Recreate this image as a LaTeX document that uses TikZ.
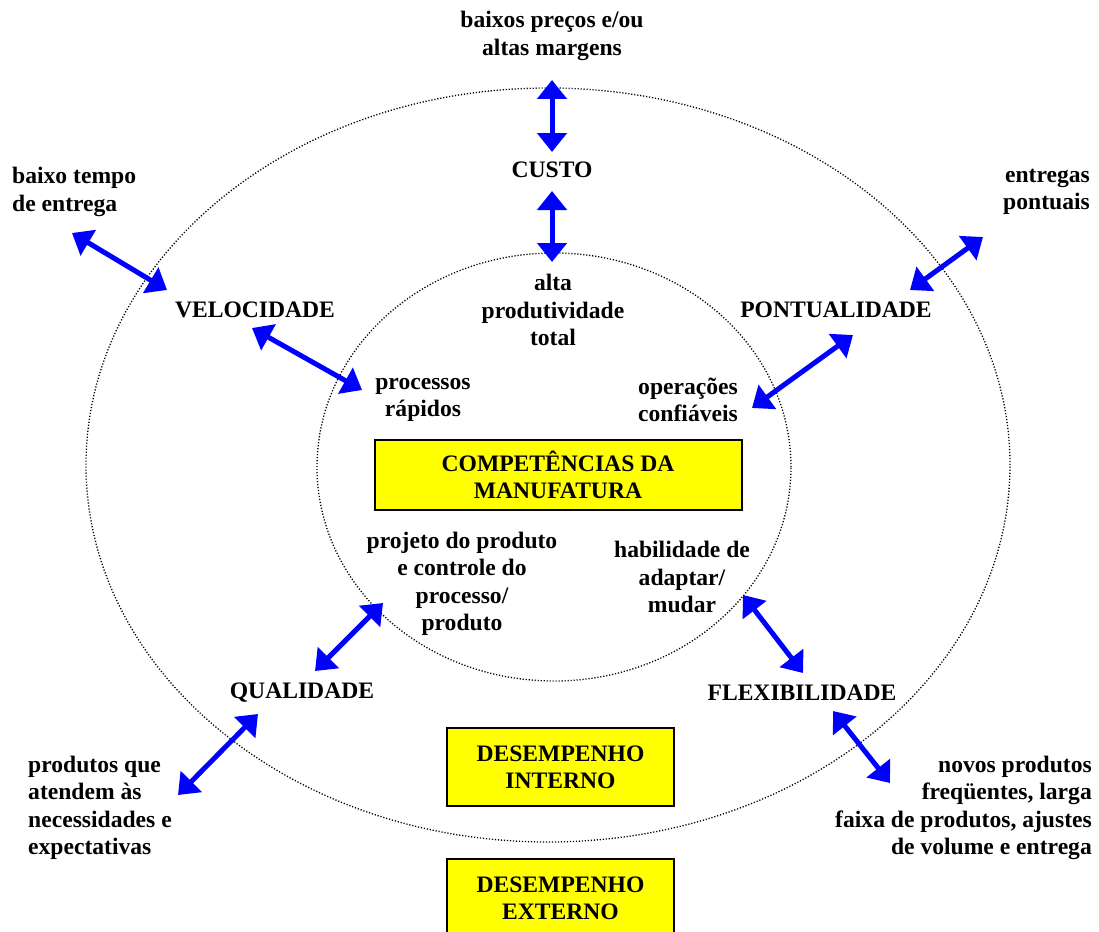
\documentclass[tikz,border=0pt]{standalone}
\usepackage{fontspec}
\setmainfont{Liberation Serif}
\usetikzlibrary{arrows.meta}
\definecolor{boxyellow}{RGB}{255,255,0}
\definecolor{arrowblue}{RGB}{0,0,255}
\begin{document}
\begin{tikzpicture}[x=1pt,y=-1pt,
  lbl/.style={font=\bfseries\fontsize{23.6}{27.4}\selectfont, inner sep=0pt, align=center},
  ybox/.style={lbl, draw=black, line width=2pt, fill=boxyellow},
  dbl/.style={draw=arrowblue, fill=arrowblue, line width=5pt, {Triangle[length=19pt,width=29pt]}-{Triangle[length=19pt,width=29pt]}},
  orbit/.style={line width=1.3pt, dash pattern=on 1.2pt off 1.8pt}
]
\clip (0,0) rectangle (1099,931);
\fill[white] (0,0) rectangle (1099,931);

% orbits
\draw[orbit] (548,465) ellipse [x radius=462pt, y radius=377pt];
\draw[orbit] (554,467) ellipse [x radius=237pt, y radius=214pt];

% labels
\node[lbl] (precos) at (552,36) {baixos preços e/ou\\altas margens};
\node[lbl] (custo) at (552,170) {CUSTO};
\node[lbl] (prod) at (553,310) {alta\\produtividade\\total};
\node[lbl] (vel) at (255,310) {VELOCIDADE};
\node[lbl] (pont) at (836,310) {PONTUALIDADE};
\node[lbl, anchor=west, align=left] (tempo) at (12,192) {baixo tempo\\de entrega};
\node[lbl, anchor=east, align=right] (entregas) at (1090,192) {entregas\\pontuais};
\node[lbl] (proc) at (423,400) {processos\\rápidos};
\node[lbl] (oper) at (688,400) {operações\\confiáveis};
\node[ybox, minimum width=367pt, minimum height=70pt] (comp) at (558,475) {COMPETÊNCIAS DA\\MANUFATURA};
\node[lbl] (proj) at (462,584) {projeto do produto\\e controle do\\processo/\\produto};
\node[lbl] (hab) at (682,577) {habilidade de\\adaptar/\\mudar};
\node[lbl] (qual) at (302,693) {QUALIDADE};
\node[lbl] (flex) at (802,693) {FLEXIBILIDADE};
\node[lbl, anchor=west, align=left] (necess) at (28,808) {produtos que\\atendem às\\necessidades e\\expectativas};
\node[lbl, anchor=east, align=right] (novos) at (1092,808) {novos produtos\\freqüentes, larga\\faixa de produtos, ajustes\\de volume e entrega};
\node[ybox, minimum width=227pt, minimum height=78pt] (interno) at (560.5,767) {DESEMPENHO\\INTERNO};
\node[ybox, minimum width=227pt, minimum height=78pt] (externo) at (560.5,898) {DESEMPENHO\\EXTERNO};

% arrow end points
\coordinate (c1a) at (552,80);  \coordinate (c1b) at (552,152);
\coordinate (c2a) at (552,191); \coordinate (c2b) at (552,262);
\coordinate (v1a) at (72,233);  \coordinate (v1b) at (167,290);
\coordinate (v2a) at (252,328); \coordinate (v2b) at (362,390);
\coordinate (p1a) at (983,237); \coordinate (p1b) at (910,290);
\coordinate (p2a) at (853,335); \coordinate (p2b) at (752,408);
\coordinate (q1a) at (383,603); \coordinate (q1b) at (315,671);
\coordinate (q2a) at (258,714); \coordinate (q2b) at (178,795);
\coordinate (f1a) at (743,595); \coordinate (f1b) at (803,673);
\coordinate (f2a) at (833,711); \coordinate (f2b) at (890,783);

\draw[dbl] (c1a) -- (c1b);
\draw[dbl] (c2a) -- (c2b);
\draw[dbl] (v1a) -- (v1b);
\draw[dbl] (v2a) -- (v2b);
\draw[dbl] (p1a) -- (p1b);
\draw[dbl] (p2a) -- (p2b);
\draw[dbl] (q1a) -- (q1b);
\draw[dbl] (q2a) -- (q2b);
\draw[dbl] (f1a) -- (f1b);
\draw[dbl] (f2a) -- (f2b);
\end{tikzpicture}
\end{document}
